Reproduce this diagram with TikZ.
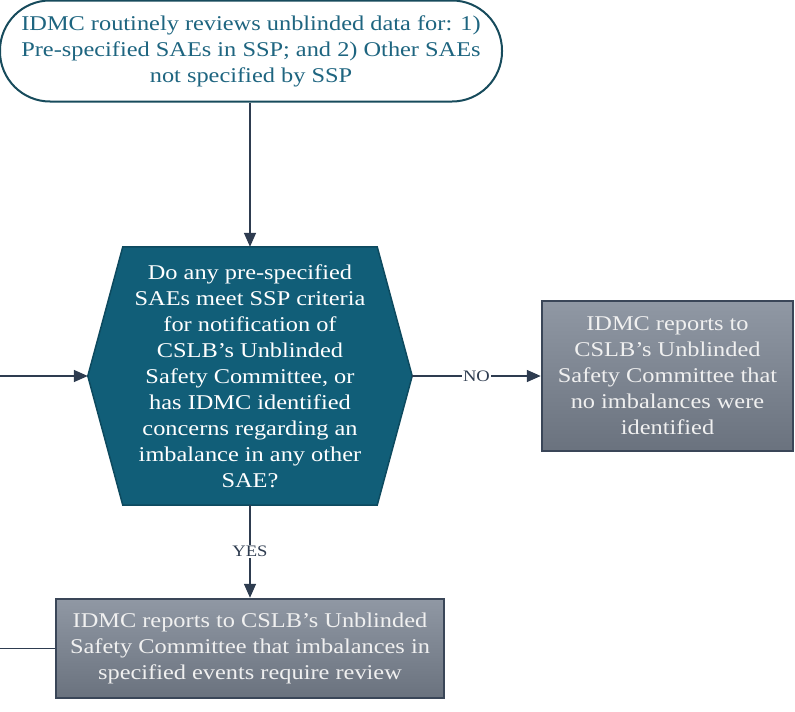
\documentclass[tikz,border=0pt]{standalone}
\usepackage{fontspec}
\setmainfont{Liberation Serif}[FakeStretch=1.16]
\usetikzlibrary{arrows.meta,backgrounds}

\definecolor{tealdark}{HTML}{174B5C}
\definecolor{tealtext}{HTML}{1E6580}
\definecolor{hexfill}{HTML}{115E78}
\definecolor{hexline}{HTML}{0D4A5F}
\definecolor{linkcol}{HTML}{2E3C50}
\definecolor{boxtop}{HTML}{9098A4}
\definecolor{boxbot}{HTML}{6A727E}
\definecolor{boxline}{HTML}{3A4658}

\tikzset{
  startbox/.style={draw=tealdark, line width=2pt, fill=white, rounded corners=50pt,
    minimum width=502pt, minimum height=101pt, inner sep=0pt, text=tealtext,
    align=center, font=\fontsize{21}{26}\selectfont},
  askbox/.style={minimum width=324pt, minimum height=258pt, inner sep=0pt,
    text=white, align=center, font=\fontsize{21}{26}\selectfont},
  reportbox/.style={draw=boxline, line width=2.5pt, top color=boxtop, bottom color=boxbot,
    inner sep=0pt, text=white!94!black, align=center, font=\fontsize{21}{26}\selectfont},
  link/.style={draw=linkcol, line width=1.6pt, -{Triangle[length=14pt,width=12pt]}},
  answer/.style={fill=white, text=linkcol, inner sep=1.5pt, font=\fontsize{16}{16}\selectfont},
}

\begin{document}
\begin{tikzpicture}[x=1pt, y=-1pt]
\useasboundingbox (0,0) rectangle (795,712);

% Nodes
\node[startbox] (review) at (251,51) {IDMC routinely reviews unblinded data for: 1)\\Pre-specified SAEs in SSP; and 2) Other SAEs\\not specified by SSP};
\node[askbox] (check) at (250,376) {Do any pre-specified\\SAEs meet SSP criteria\\for notification of\\CSLB’s Unblinded\\Safety Committee, or\\has IDMC identified\\concerns regarding an\\imbalance in any other\\SAE?};
\node[reportbox, minimum width=251pt, minimum height=150pt] (noreport) at (667.5,376) {IDMC reports to\\CSLB’s Unblinded\\Safety Committee that\\no imbalances were\\identified};
\node[reportbox, minimum width=388pt, minimum height=99pt] (yesreport) at (250,648.5) {IDMC reports to CSLB’s Unblinded\\Safety Committee that imbalances in\\specified events require review};
\coordinate (inlet) at (0,376);
\coordinate (outlet) at (0,648.5);

% Hexagon behind the question
\begin{scope}[on background layer]
\filldraw[fill=hexfill, draw=hexline, line width=1.5pt]
  ([xshift=35pt]check.north west) -- ([xshift=-35pt]check.north east) -- (check.east)
  -- ([xshift=-35pt]check.south east) -- ([xshift=35pt]check.south west) -- (check.west) -- cycle;
\end{scope}

% Arrows
\draw[link] (review.south -| check.north) -- (check.north);
\draw[link] (check.east) -- node[answer] {NO} (noreport.west);
\draw[link] (check.south) -- node[answer] {YES} (yesreport.north);
\draw[link] (inlet) -- (check.west);
\draw[draw=linkcol, line width=1.6pt] (yesreport.west) -- (outlet);
\end{tikzpicture}
\end{document}
